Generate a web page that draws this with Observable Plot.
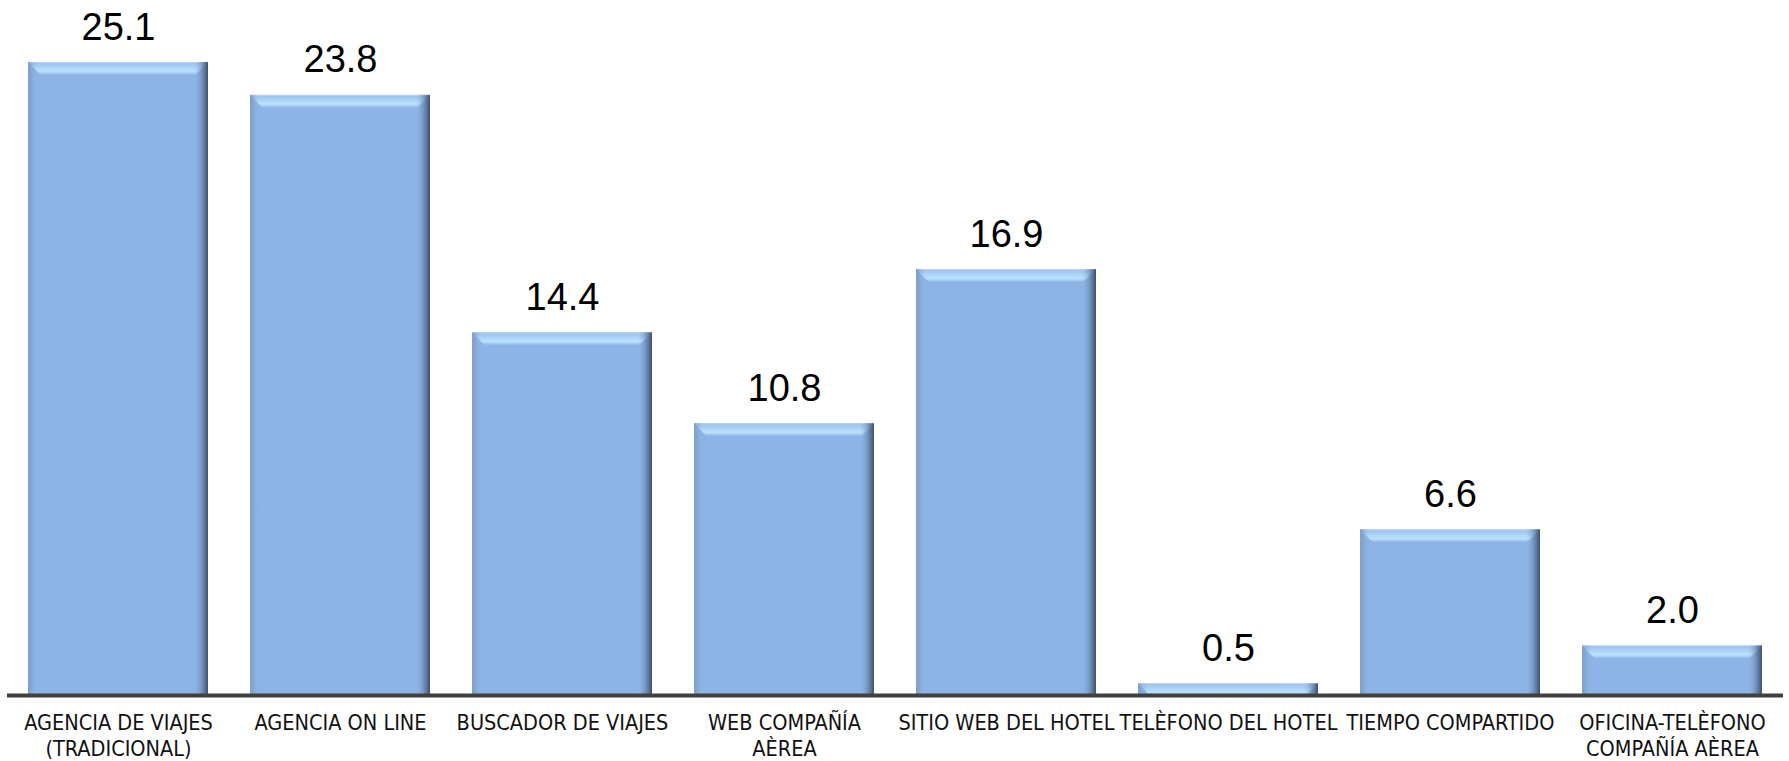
<!DOCTYPE html>
<html><head><meta charset="utf-8">
<script src="https://cdn.jsdelivr.net/npm/d3@7"></script>
<script src="https://cdn.jsdelivr.net/npm/@observablehq/plot@0.6"></script>
<style>body{margin:0;background:#fff}</style>
</head><body><div id="chart"></div>
<script>
const categories = [
  "AGENCIA DE VIAJES\n(TRADICIONAL)",
  "AGENCIA ON LINE",
  "BUSCADOR DE VIAJES",
  "WEB COMPAÑÍA\nAÈREA",
  "SITIO WEB DEL HOTEL",
  "TELÈFONO DEL HOTEL",
  "TIEMPO COMPARTIDO",
  "OFICINA-TELÈFONO\nCOMPAÑÍA AÈREA"
];
const values = [25.1, 23.8, 14.4, 10.8, 16.9, 0.5, 6.6, 2.0];
const valueLabels = ["25.1", "23.8", "14.4", "10.8", "16.9", "0.5", "6.6", "2.0"];
const data = categories.map((c, i) => ({c, v: values[i], label: valueLabels[i]}));

const chart = Plot.plot({
  width: 1789, height: 761,
  marginLeft: 7, marginRight: 6, marginTop: 62, marginBottom: 65,
  x: {domain: categories, paddingInner: 0.19, paddingOuter: 0.095, label: null, axis: null},
  y: {domain: [0, 25.1], axis: null},
  style: {background: "white", overflow: "visible"},
  marks: [
    Plot.barY(data, {x: "c", y: "v", fill: "#8db4e6"}),
    Plot.barY(data, {x: "c", y1: "v", y2: "v", insetBottom: -13, fill: "url(#topShade)"}),
    Plot.barY(data, {x: "c", y: "v", fill: "url(#sideShade)"}),
    Plot.ruleY([0], {stroke: "#404040", strokeWidth: 4, dy: -1}),
    Plot.axisX({tickSize: 0, tickPadding: 16, fontSize: 21.5, fontFamily: "'Liberation Sans Narrow', 'DejaVu Sans Condensed', sans-serif", fill: "#111", lineHeight: 1.17}),
    Plot.text(data, {x: "c", y: "v", text: "label", lineAnchor: "bottom", dy: -23, fontSize: 38, fontFamily: "'Liberation Sans', Arial, sans-serif", fill: "#000"})
  ]
});

const svgSel = d3.select(chart);
const defs = svgSel.insert("defs", ":first-child");
const sideGrad = defs.append("linearGradient").attr("id", "sideShade").attr("x1", 0).attr("x2", 1).attr("y1", 0).attr("y2", 0);
[
  [0, "rgb(150,160,175)", 0.95],
  [0.012, "rgb(120,145,180)", 0.5],
  [0.05, "rgb(141,180,230)", 0],
  [0.92, "rgb(141,180,230)", 0],
  [0.97, "rgb(70,95,130)", 0.5],
  [1, "rgb(45,60,85)", 0.85]
].forEach(([o, c, a]) => sideGrad.append("stop").attr("offset", o).attr("stop-color", c).attr("stop-opacity", a));
const topGrad = defs.append("linearGradient").attr("id", "topShade").attr("x1", 0).attr("x2", 0).attr("y1", 0).attr("y2", 1);
[
  [0, "rgb(212,217,224)", 1],
  [0.12, "rgb(160,195,238)", 1],
  [0.7, "rgb(186,226,255)", 1],
  [0.85, "rgb(168,206,245)", 1],
  [1, "rgb(141,180,230)", 1]
].forEach(([o, c, a]) => topGrad.append("stop").attr("offset", o).attr("stop-color", c).attr("stop-opacity", a));
const mask = defs.append("mask").attr("id", "bevelMask").attr("maskContentUnits", "objectBoundingBox");
mask.append("polygon").attr("points", "0,0 1,0 0.93,1 0.07,1").attr("fill", "white");

const barGroups = svgSel.selectAll('g[aria-label="bar"]').nodes();
d3.select(barGroups[1]).selectAll("rect").attr("mask", "url(#bevelMask)");

document.getElementById("chart").appendChild(chart);
</script>
</body></html>
